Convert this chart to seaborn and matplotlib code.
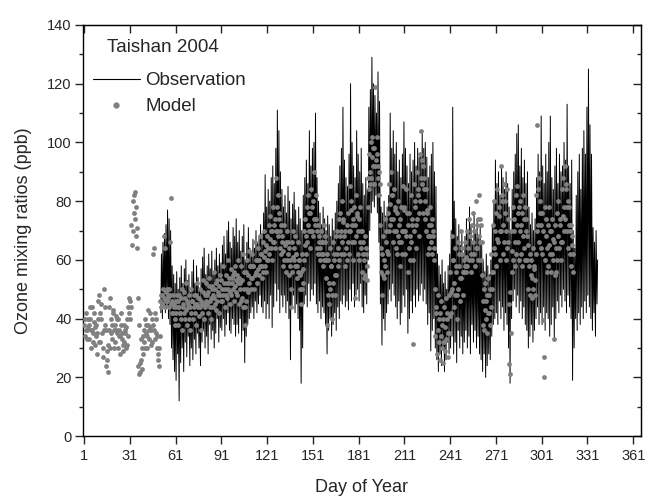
import matplotlib
matplotlib.use("Agg")
import matplotlib.pyplot as plt
from matplotlib.lines import Line2D
import numpy as np
import seaborn as sns

sns.set_style("ticks")
plt.rcParams["font.family"] = ["Liberation Sans", "DejaVu Sans"]

# ------------------------------------------------------------------ #
# Observation: daily high / low (ppb), day-of-year 51 .. 337
# ------------------------------------------------------------------ #
obs_first_day = 51
obs_hi = [
    62, 66, 69, 72, 77, 74, 70, 58, 55, 52,
    56, 50, 54, 58, 52, 57, 60, 53, 55, 49,
    56, 60, 52, 58, 54, 50, 57, 61, 64, 55,
    58, 62, 57, 63, 55, 60, 64, 58, 62, 59,
    65, 68, 62, 70, 73, 66, 64, 71, 68, 74,
    66, 70, 63, 68, 72, 60, 66, 71, 64, 62,
    67, 64, 70, 66, 68, 72, 69, 76, 89, 78,
    84, 80, 88, 92, 86, 98, 111, 104, 90, 84,
    78, 82, 76, 85, 80, 74, 79, 83, 77, 72,
    78, 74, 70, 82, 88, 94, 86, 104, 92, 98,
    100, 110, 88, 80, 76, 72, 78, 74, 70, 75,
    72, 68, 74, 70, 76, 80, 86, 92, 98, 112,
    94, 88, 85, 96, 120, 100, 92, 88, 104, 96,
    90, 98, 86, 82, 88, 84, 112, 118, 129, 120,
    116, 110, 124, 114, 78, 76, 80, 75, 78, 82,
    110, 98, 104, 96, 100, 90, 94, 88, 96, 107,
    98, 92, 86, 96, 90, 94, 100, 92, 98, 95,
    96, 103, 98, 100, 95, 88, 92, 96, 100, 90,
    85, 62, 58, 55, 60, 52, 56, 50, 58, 62,
    70, 112, 80, 74, 68, 72, 65, 70, 62, 68,
    74, 70, 78, 72, 66, 76, 70, 74, 68, 72,
    65, 60, 56, 62, 58, 55, 60, 72, 80, 94,
    86, 90, 82, 92, 88, 84, 90, 86, 78, 70,
    84, 90, 96, 103, 106, 92, 98, 88, 94, 86,
    90, 78, 72, 76, 70, 74, 88, 96, 90, 109,
    92, 86, 96, 90, 100, 109, 88, 84, 92, 98,
    86, 96, 90, 92, 100, 94, 113, 92, 86, 94,
    70, 64, 82, 90, 96, 84, 98, 104, 96, 112,
    125, 106, 96, 71, 66, 70, 60,
]
obs_lo = [
    42, 40, 45, 42, 44, 40, 38, 30, 26, 22,
    19, 28, 12, 25, 30, 22, 32, 27, 34, 24,
    30, 26, 33, 28, 35, 30, 24, 32, 36, 30,
    34, 28, 38, 33, 36, 30, 35, 40, 32, 37,
    36, 40, 34, 38, 42, 36, 35, 40, 38, 34,
    38, 35, 40, 32, 36, 25, 34, 38, 40, 42,
    44, 40, 46, 42, 45, 48, 44, 42, 46, 40,
    45, 40, 48, 37, 44, 52, 46, 50, 42, 48,
    44, 48, 42, 46, 40, 26, 44, 48, 42, 45,
    40, 36, 18, 30, 45, 48, 44, 52, 46, 50,
    48, 52, 45, 42, 46, 40, 44, 42, 38, 28,
    36, 40, 34, 38, 42, 36, 44, 40, 46, 45,
    48, 44, 46, 43, 50, 46, 52, 44, 48, 50,
    46, 52, 44, 42, 48, 45, 60, 70, 76, 80,
    78, 82, 76, 66, 45, 31, 40, 36, 42, 45,
    50, 46, 52, 48, 44, 40, 46, 38, 42, 48,
    44, 50, 35, 40, 46, 42, 48, 44, 50, 46,
    48, 52, 46, 50, 45, 38, 42, 29, 36, 40,
    30, 26, 22, 28, 24, 30, 22, 26, 32, 28,
    30, 34, 28, 32, 25, 36, 30, 34, 28, 32,
    36, 30, 34, 28, 38, 32, 36, 30, 34, 28,
    26, 22, 28, 20, 24, 28, 26, 34, 38, 40,
    42, 38, 46, 40, 44, 36, 42, 38, 30, 18,
    40, 46, 50, 44, 48, 42, 46, 40, 44, 38,
    36, 30, 34, 38, 32, 36, 40, 44, 38, 42,
    38, 44, 36, 42, 40, 34, 38, 44, 33, 40,
    46, 42, 48, 44, 50, 46, 42, 48, 44, 40,
    19, 30, 40, 36, 42, 38, 44, 40, 46, 42,
    48, 44, 40, 36, 42, 34, 45,
]

# ------------------------------------------------------------------ #
# Model: three values per day (ppb), day-of-year 1 .. 321
# ------------------------------------------------------------------ #
model_a = [
    38, 42, 36, 33, 40, 44, 35, 31, 38, 46,
    48, 40, 30, 50, 36, 26, 44, 47, 38, 42,
    38, 41, 40, 36, 42, 33, 38, 35, 40, 44,
    46, 72, 80, 83, 68, 47, 38, 33, 30, 36,
    40, 34, 38, 42, 36, 62, 64, 40, 34, 30,
    46, 48, 68, 64, 50, 47, 66, 81, 48, 45,
    46, 44, 48, 42, 50, 45, 47, 52, 44, 48,
    50, 46, 44, 48, 52, 47, 50, 45, 53, 48,
    52, 49, 54, 47, 51, 56, 50, 53, 48, 55,
    53, 58, 50, 55, 60, 52, 57, 54, 56, 58,
    55, 60, 52, 58, 62, 50, 56, 60, 63, 58,
    62, 58, 66, 60, 64, 68, 62, 66, 70, 65,
    68, 72, 75, 70, 78, 74, 88, 82, 76, 72,
    68, 72, 66, 70, 64, 58, 66, 70, 68, 62,
    66, 60, 56, 62, 70, 74, 78, 82, 76, 84,
    80, 90, 74, 72, 68, 70, 66, 72, 68, 62,
    60, 64, 58, 66, 62, 68, 70, 74, 76, 80,
    74, 70, 72, 76, 85, 80, 74, 78, 82, 76,
    74, 78, 70, 66, 68, 64, 88, 96, 100, 102,
    98, 119, 96, 90, 72, 62, 68, 74, 70, 76,
    86, 90, 82, 84, 78, 76, 80, 74, 78, 85,
    78, 84, 72, 76, 82, 72, 86, 80, 90, 84,
    96, 104, 92, 88, 84, 76, 72, 78, 74, 70,
    50, 44, 48, 42, 46, 40, 44, 47, 42, 48,
    56, 68, 60, 64, 58, 66, 62, 70, 64, 60,
    66, 70, 74, 68, 72, 76, 70, 80, 74, 82,
    72, 55, 50, 52, 48, 54, 50, 62, 72, 80,
    76, 84, 78, 92, 82, 86, 80, 84, 66, 49,
    70, 78, 74, 82, 85, 78, 80, 76, 82, 78,
    74, 65, 62, 60, 64, 58, 82, 106, 88, 80,
    76, 39.5, 78, 74, 72, 78, 70, 74, 66, 72,
    76, 80, 74, 84, 88, 92, 86, 80, 78, 72,
    68,
]
model_b = [
    34, 36, 40, 38, 30, 36, 42, 37, 28, 40,
    32, 45, 27, 38, 24, 31, 36, 40, 33, 36,
    32, 35, 30, 34, 38, 29, 32, 37, 31, 42,
    40, 65, 76, 74, 64, 24, 22, 26, 28, 32,
    35, 30, 33, 37, 32, 38, 42, 35, 28, 24,
    44, 45, 47, 49, 46, 44, 48, 46, 42, 40,
    42, 38, 44, 40, 36, 42, 40, 38, 45, 36,
    42, 40, 45, 38, 44, 41, 36, 42, 40, 44,
    45, 42, 46, 40, 44, 47, 43, 46, 42, 48,
    46, 48, 44, 47, 50, 45, 48, 50, 46, 49,
    48, 45, 50, 47, 44, 38, 46, 49, 52, 50,
    54, 50, 56, 52, 55, 58, 54, 56, 58, 56,
    60, 62, 64, 60, 66, 64, 70, 68, 64, 62,
    58, 60, 56, 62, 55, 44, 56, 60, 58, 54,
    56, 50, 45, 52, 60, 62, 66, 70, 64, 70,
    68, 72, 64, 62, 60, 62, 58, 60, 54, 38,
    45, 50, 40, 52, 48, 55, 58, 60, 62, 66,
    62, 58, 60, 62, 70, 66, 60, 47, 68, 62,
    60, 64, 56, 54, 55, 53, 78, 86, 88, 92,
    86, 94, 88, 82, 56, 48, 54, 58, 56, 62,
    72, 74, 66, 70, 64, 62, 66, 58, 62, 70,
    62, 68, 56, 60, 66, 31.5, 70, 64, 74, 68,
    80, 86, 76, 74, 70, 62, 64, 66, 62, 60,
    34, 28, 32, 26, 30, 25, 29, 33, 27, 35,
    42, 50, 44, 48, 40, 50, 46, 54, 48, 56,
    56, 58, 60, 56, 60, 62, 58, 64, 60, 66,
    60, 38, 36, 40, 35, 42, 38, 50, 56, 62,
    58, 66, 60, 70, 62, 66, 60, 64, 24.7, 21,
    56, 60, 58, 62, 66, 60, 62, 58, 64, 60,
    60, 50, 48, 47, 50, 48, 62, 72, 66, 64,
    62, 27, 60, 56, 58, 62, 56, 60, 33, 56,
    60, 64, 60, 66, 70, 74, 70, 64, 62, 58,
    56,
]
model_c = [
    40, 33, 37, 44, 36, 32, 39, 34, 35, 32,
    42, 35, 36, 44, 29, 22, 30, 35, 43, 30,
    36, 40, 34, 28, 35, 31, 36, 30, 34, 47,
    44, 70, 82, 78, 71, 21, 25, 23, 34, 30,
    38, 43, 36, 31, 40, 36, 33, 30, 26, 34,
    48, 50, 44, 46, 48, 50, 45, 42, 44, 38,
    48, 46, 42, 47, 44, 49, 43, 46, 40, 44,
    46, 48, 42, 45, 47, 44, 46, 49, 45, 46,
    48, 51, 44, 50, 48, 45, 52, 49, 51, 46,
    50, 52, 48, 52, 54, 49, 52, 55, 51, 53,
    52, 54, 46, 53, 56, 44, 50, 55, 58, 54,
    58, 55, 60, 57, 60, 62, 58, 61, 63, 60,
    64, 67, 70, 66, 72, 70, 78, 74, 70, 66,
    63, 65, 60, 66, 60, 50, 61, 64, 62, 58,
    60, 55, 50, 57, 65, 68, 72, 76, 70, 78,
    74, 82, 70, 66, 64, 66, 62, 66, 60, 48,
    52, 58, 48, 60, 55, 62, 64, 68, 70, 73,
    68, 64, 66, 70, 77, 72, 66, 72, 75, 70,
    66, 70, 62, 60, 62, 58, 84, 90, 95, 98,
    92, 102, 92, 86, 64, 55, 60, 66, 63, 70,
    79, 82, 74, 77, 70, 68, 72, 66, 70, 77,
    70, 76, 64, 68, 74, 60, 78, 72, 82, 76,
    88, 94, 84, 80, 77, 68, 68, 72, 68, 64,
    42, 36, 40, 34, 38, 32, 37, 40, 35, 41,
    49, 60, 52, 56, 48, 58, 54, 62, 56, 58,
    61, 64, 68, 62, 66, 70, 64, 72, 68, 74,
    66, 46, 43, 46, 42, 48, 44, 56, 64, 70,
    67, 75, 70, 80, 72, 76, 70, 74, 45, 35,
    63, 70, 66, 72, 76, 70, 72, 68, 74, 70,
    68, 58, 55, 54, 57, 53, 70, 84, 76, 72,
    70, 20, 68, 64, 65, 70, 62, 67, 55, 64,
    68, 72, 66, 75, 78, 84, 78, 72, 70, 65,
    62,
]

x_ticks = list(range(1, 362, 30))

# ------------------------------------------------------------------ #
fig = plt.figure(figsize=(6.46, 4.99), dpi=100)
ax = fig.add_axes([0.128, 0.126, 0.864, 0.824])

# observation: morning low / afternoon high for every day
obs_days = np.arange(obs_first_day, obs_first_day + len(obs_hi))
obs_x = np.column_stack([obs_days + 0.25, obs_days + 0.65]).ravel()
obs_y = np.column_stack([obs_lo, obs_hi]).ravel()
sns.lineplot(x=obs_x, y=obs_y, ax=ax, color="black", linewidth=0.7,
             estimator=None, sort=False)

# model: three outputs per day
for vals, off in [(model_a, 0.0), (model_b, 0.33), (model_c, 0.67)]:
    days = np.arange(1, len(vals) + 1) + off
    sns.scatterplot(x=days, y=vals, ax=ax, color="#808080", s=12,
                    linewidth=0, zorder=3)

ax.set_xlim(0, 366)
ax.set_ylim(0, 140)
ax.set_xticks(x_ticks)
ax.set_yticks(range(0, 141, 20))
ax.set_yticks(range(10, 140, 20), minor=True)

for s in ax.spines.values():
    s.set_linewidth(1.0)
    s.set_color("black")

ax.tick_params(axis="x", which="major", direction="out", length=6, width=1.0,
               labelsize=10.5, pad=3, top=False)
ax.tick_params(axis="y", which="major", direction="out", length=6, width=1.0,
               labelsize=10.5, pad=2)
ax.tick_params(axis="y", which="minor", direction="out", length=3, width=1.0)

# mirrored inward ticks on top and right
ax_top = ax.secondary_xaxis("top")
ax_top.set_xticks(x_ticks)
ax_top.tick_params(direction="in", length=6, width=1.0, labeltop=False)
ax_right = ax.secondary_yaxis("right")
ax_right.set_yticks(range(0, 141, 20))
ax_right.set_yticks(range(10, 140, 20), minor=True)
ax_right.tick_params(which="major", direction="in", length=6, width=1.0, labelright=False)
ax_right.tick_params(which="minor", direction="in", length=3, width=1.0)

ax.set_xlabel("Day of Year", fontsize=13, labelpad=12)
ax.set_ylabel("Ozone mixing ratios (ppb)", fontsize=13)
ax.yaxis.set_label_coords(-0.091, 0.5)

ax.text(0.0435, 0.944, "Taishan 2004", transform=ax.transAxes,
        fontsize=13.5, va="center", ha="left")
handles = [
    Line2D([], [], color="black", linewidth=0.8),
    Line2D([], [], color="#808080", marker="o", markersize=3.5, linestyle="none"),
]
ax.legend(handles, ["Observation", "Model"], loc="upper left",
          bbox_to_anchor=(0.0185, 0.885), frameon=False, fontsize=13.5,
          handlelength=2.5, handletextpad=0.3, labelspacing=0.47,
          borderpad=0, borderaxespad=0)

fig.savefig("out.png", dpi=100)
